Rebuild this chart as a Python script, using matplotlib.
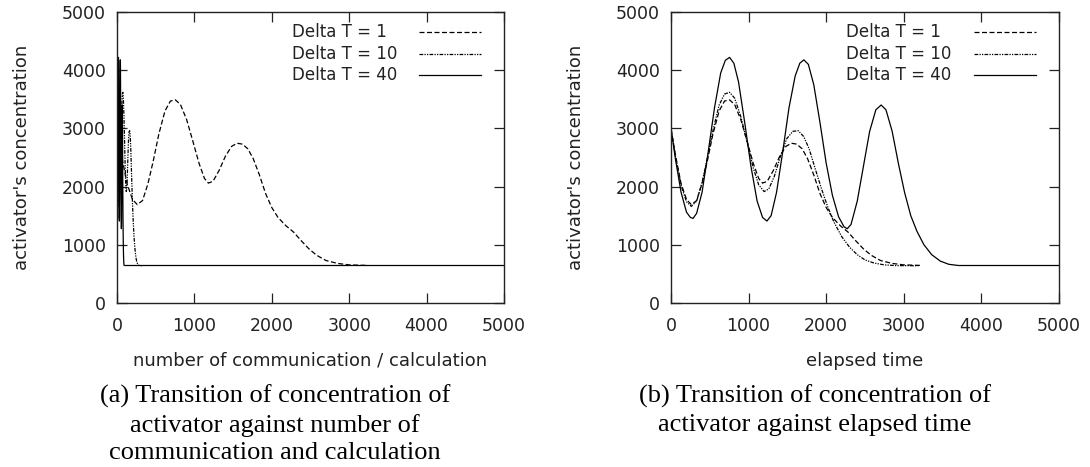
import matplotlib
matplotlib.use("Agg")
import matplotlib.pyplot as plt

# elapsed time vs activator's concentration
t_dt1 = [0, 60, 130, 200, 262, 330, 400, 470, 540, 620, 690, 755, 820, 900, 980, 1060,
         1130, 1180, 1240, 1320, 1400, 1480, 1550, 1620, 1690, 1760, 1840, 1920, 2000,
         2080, 2180, 2280, 2380, 2480, 2580, 2700, 2850, 3000, 3240]
c_dt1 = [3000, 2520, 2050, 1780, 1690, 1760, 2050, 2450, 2900, 3300, 3470, 3490, 3410,
         3150, 2780, 2400, 2140, 2060, 2090, 2280, 2520, 2690, 2745, 2730, 2650, 2480,
         2200, 1880, 1640, 1470, 1330, 1220, 1070, 930, 820, 730, 680, 655, 645]

t_dt10 = [0, 60, 130, 200, 262, 330, 400, 470, 540, 620, 690, 755, 820, 900, 980, 1060,
          1130, 1200, 1260, 1330, 1410, 1490, 1570, 1640, 1710, 1780, 1860, 1940, 2020,
          2100, 2200, 2300, 2400, 2500, 2620, 2750, 2900, 3190]
c_dt10 = [3000, 2500, 2020, 1740, 1660, 1750, 2070, 2500, 2960, 3400, 3590, 3620, 3520,
          3200, 2770, 2320, 2030, 1915, 1960, 2170, 2520, 2820, 2950, 2960, 2860, 2650,
          2300, 1960, 1650, 1390, 1140, 960, 830, 740, 685, 655, 643, 640]

t_dt40 = [0, 60, 130, 200, 250, 284, 330, 400, 480, 560, 640, 700, 755, 810, 870, 950,
          1030, 1110, 1180, 1236, 1290, 1360, 1440, 1520, 1600, 1660, 1712, 1770, 1840,
          1920, 2000, 2080, 2160, 2230, 2271, 2320, 2400, 2480, 2560, 2640, 2708, 2770,
          2850, 2930, 3010, 3090, 3170, 3260, 3360, 3470, 3580, 3700]
c_dt40 = [3000, 2450, 1900, 1560, 1470, 1454, 1540, 1900, 2600, 3350, 3950, 4170, 4220,
          4120, 3800, 3100, 2350, 1750, 1470, 1408, 1500, 1900, 2600, 3350, 3900, 4120,
          4178, 4100, 3750, 3100, 2400, 1850, 1480, 1310, 1276, 1350, 1750, 2350, 2950,
          3320, 3402, 3320, 2950, 2400, 1900, 1500, 1230, 1000, 830, 720, 665, 645]

steady = 645
delta_t = [1, 10, 40]
labels = ["Delta T = 1", "Delta T = 10", "Delta T = 40"]
styles = [(0, (4, 2)), (0, (3, 1, 1, 1, 1, 1)), "-"]
ticks = [0, 1000, 2000, 3000, 4000, 5000]

xlabels = ["number of communication / calculation", "elapsed time"]
captions = ["(a) Transition of concentration of\nactivator against number of\ncommunication and calculation",
            "(b) Transition of concentration of\nactivator against elapsed time"]
caption_x = [275, 815]

ink = "#222222"
fig = plt.figure(figsize=(10.9, 4.67), dpi=100)
ax_a = fig.add_axes([117 / 1090, 1 - 303 / 467, 387 / 1090, 291 / 467])
ax_b = fig.add_axes([671 / 1090, 1 - 303 / 467, 388 / 1090, 291 / 467])

series = [(t_dt1, c_dt1), (t_dt10, c_dt10), (t_dt40, c_dt40)]

for k, ax in enumerate([ax_a, ax_b]):
    for (t, c), dt, ls in zip(series, delta_t, styles):
        # panel (a) counts steps, so time is divided by Delta T
        x = [v / dt for v in t] if k == 0 else t
        ax.plot(x, c, color="black", lw=0.9, ls=ls)
    x_end = t_dt40[-1] / 40 if k == 0 else t_dt40[-1]
    ax.hlines(steady, x_end, 5000, color="black", lw=0.9)

    # gnuplot style key: text left aligned, sample line to the right
    for i, (lab, ls) in enumerate(zip(labels, styles)):
        yk = 0.93 - i * 0.074
        ax.text(0.452, yk, lab, transform=ax.transAxes, fontsize=12, color=ink,
                va="center", ha="left")
        ax.plot([0.78, 0.94], [yk, yk], transform=ax.transAxes, color="black",
                lw=0.9, ls=ls)

    ax.set_xlim(0, 5000)
    ax.set_ylim(0, 5000)
    ax.set_xticks(ticks)
    ax.set_yticks(ticks)
    ax.tick_params(direction="in", length=7, width=0.9, top=True, right=True,
                   labelsize=12.5, colors=ink)
    ax.tick_params(axis="y", pad=8)
    ax.tick_params(axis="x", pad=10)
    for s in ax.spines.values():
        s.set_color(ink)
        s.set_linewidth(1.0)
    ax.set_ylabel("activator's concentration", fontsize=13, color=ink, labelpad=22)
    ax.set_xlabel(xlabels[k], fontsize=13, color=ink, labelpad=12)

for cx, cap in zip(caption_x, captions):
    fig.text(cx / 1090, 1 - 385 / 467, cap, ha="center", va="top",
             family="Liberation Serif", fontsize=19, linespacing=1.3)

fig.savefig("out.png", dpi=100)
